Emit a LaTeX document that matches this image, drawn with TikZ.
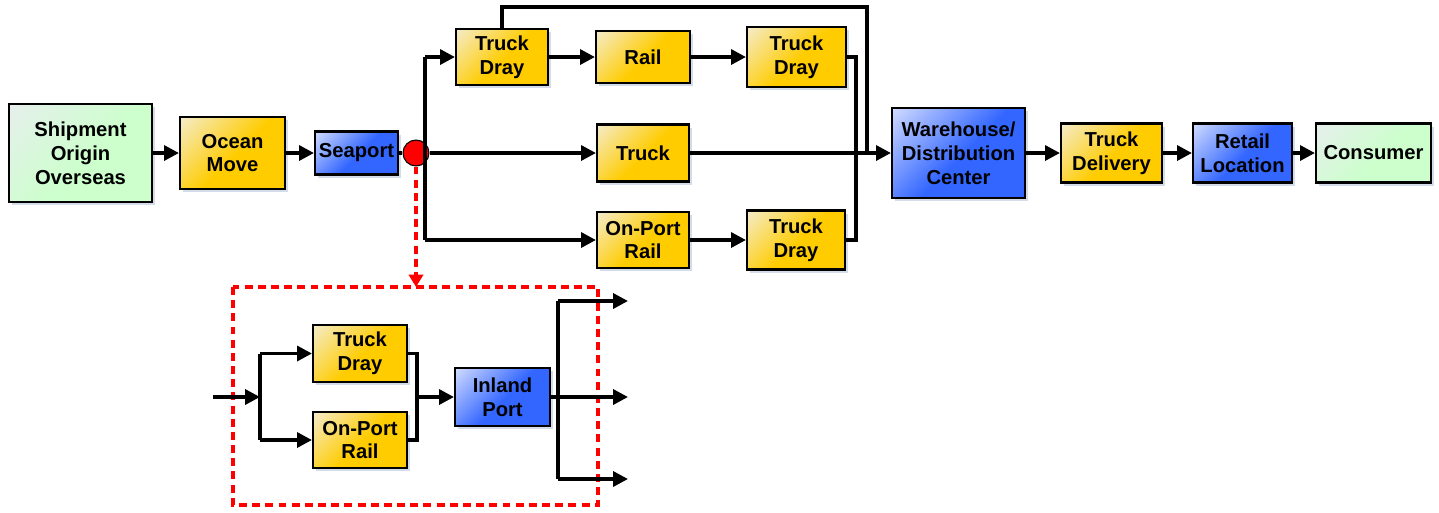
\documentclass[tikz,border=0pt]{standalone}
\usepackage{fontspec}
\setmainfont{Liberation Sans}
\usetikzlibrary{arrows.meta,shadows,positioning}
\definecolor{myGold}{HTML}{FFCC00}
\definecolor{myGoldLight}{HTML}{F4EED8}
\definecolor{myBlue}{HTML}{3366FF}
\definecolor{myBlueLight}{HTML}{DCE4FF}
\definecolor{myGreen}{HTML}{CCFFCC}
\definecolor{myGreenLight}{HTML}{E8EEEE}
\definecolor{myShadow}{HTML}{B8C4DC}
\pgfdeclareverticalshading{myGoldShade}{100bp}{color(0bp)=(myGold); color(48bp)=(myGold); color(88bp)=(myGoldLight); color(100bp)=(myGoldLight)}
\pgfdeclareverticalshading{myBlueShade}{100bp}{color(0bp)=(myBlue); color(48bp)=(myBlue); color(88bp)=(myBlueLight); color(100bp)=(myBlueLight)}
\pgfdeclareverticalshading{myGreenShade}{100bp}{color(0bp)=(myGreen); color(45bp)=(myGreen); color(88bp)=(myGreenLight); color(100bp)=(myGreenLight)}
\tikzset{
myBox/.style={
	rectangle, draw=black, line width=1.2pt,
	inner sep=0pt, align=center, text=black,
	font=\bfseries\fontsize{11.5}{13.6}\selectfont,
	drop shadow={shadow xshift=1.8pt, shadow yshift=-1.8pt, fill=myShadow, opacity=0.6}
}
, myYellow/.style={myBox, shading=myGoldShade, shading angle=45}
, myBlueBox/.style={myBox, shading=myBlueShade, shading angle=45}
, myGreenBox/.style={myBox, shading=myGreenShade, shading angle=45}
, mySplit/.style={circle, draw=black, line width=0.6pt, fill=red, inner sep=0pt, minimum size=0.52cm}
% links
, myLine/.style={line width=2pt, black}
, myArrow/.style={myLine, -{Triangle[length=8.5pt,width=8.5pt]}}
, myDash/.style={red, line width=1.8pt, dash pattern=on 4.5pt off 3pt}
}

\begin{document}
\begin{tikzpicture}[x=0.02cm, y=-0.02cm]
	\useasboundingbox (0,0) rectangle (1439,512);
	% main chain
	\node[myGreenBox, minimum width=2.86cm, minimum height=1.96cm] (Origin) at (80.5,153) {Shipment\\Origin\\Overseas};
	\node[myYellow, minimum width=2.10cm, minimum height=1.44cm] (Ocean) at (232.5,153) {Ocean\\Move};
	\node[myBlueBox, minimum width=1.66cm, minimum height=0.86cm] (Seaport) at (356.5,153) {Seaport};
	\node[mySplit] (Split) at (416,153) {};
	% upper routes
	\node[myYellow, minimum width=1.84cm, minimum height=1.12cm] (DrayA) at (502,57) {Truck\\Dray};
	\node[myYellow, minimum width=1.88cm, minimum height=1.04cm] (Rail) at (643,57) {Rail};
	\node[myYellow, minimum width=1.98cm, minimum height=1.20cm] (DrayB) at (796.5,57) {Truck\\Dray};
	\node[myYellow, minimum width=1.84cm, minimum height=1.14cm] (Truck) at (643,153) {Truck};
	\node[myYellow, minimum width=1.84cm, minimum height=1.12cm] (OnPort) at (643,240) {On-Port\\Rail};
	\node[myYellow, minimum width=1.96cm, minimum height=1.18cm] (DrayC) at (796,240) {Truck\\Dray};
	% last mile
	\node[myBlueBox, minimum width=2.66cm, minimum height=1.80cm] (Warehouse) at (958.5,153) {Warehouse/\\Distribution\\Center};
	\node[myYellow, minimum width=2.02cm, minimum height=1.18cm] (Delivery) at (1111.5,153) {Truck\\Delivery};
	\node[myBlueBox, minimum width=1.98cm, minimum height=1.18cm] (Retail) at (1242.5,153) {Retail\\Location};
	\node[myGreenBox, minimum width=2.30cm, minimum height=1.18cm] (Consumer) at (1373.5,153) {Consumer};
	% inland port detail
	\draw[myDash] (233,287) rectangle (598,505);
	\node[myYellow, minimum width=1.88cm, minimum height=1.14cm] (InDray) at (360,353.5) {Truck\\Dray};
	\node[myYellow, minimum width=1.88cm, minimum height=1.12cm] (InRail) at (360,440) {On-Port\\Rail};
	\node[myBlueBox, minimum width=1.90cm, minimum height=1.16cm] (Inland) at (502.5,397) {Inland\\Port};

	% coordinates
	\coordinate (BranchTop) at (425,57);
	\coordinate (BranchBot) at (425,240);
	\coordinate (LoopA) at (502,7);
	\coordinate (LoopB) at (867,7);
	\coordinate (LoopC) at (867,153);
	\coordinate (JoinX) at (856,0);
	\coordinate (DashEnd) at (416,287);
	\coordinate (InStart) at (213,397);
	\coordinate (InSplit) at (260,397);
	\coordinate (InJoin) at (417,397);
	\coordinate (OutSplit) at (558,397);
	\coordinate (OutA) at (628,301);
	\coordinate (OutB) at (628,397);
	\coordinate (OutC) at (628,479);

	% links
	\draw[myArrow] (Origin) -- (Ocean);
	\draw[myArrow] (Ocean) -- (Seaport);
	\draw[myLine] (Seaport) -- (Split);
	\draw[myLine] (BranchTop) -- (BranchBot);
	\draw[myArrow] (BranchTop) -- (DrayA);
	\draw[myArrow] (Split) -- (Truck);
	\draw[myArrow] (BranchBot) -- (OnPort);
	\draw[myArrow] (DrayA) -- (Rail);
	\draw[myArrow] (Rail) -- (DrayB);
	\draw[myArrow] (OnPort) -- (DrayC);
	\draw[myLine] (DrayA.north) -- (LoopA) -- (LoopB) -- (LoopC);
	\draw[myLine] (DrayB.east) -| (JoinX |- DrayC.east) -- (DrayC.east);
	\draw[myArrow] (Truck) -- (Warehouse);
	\draw[myArrow] (Warehouse) -- (Delivery);
	\draw[myArrow] (Delivery) -- (Retail);
	\draw[myArrow] (Retail) -- (Consumer);
	\draw[myDash, -{Triangle[length=7pt,width=8pt]}] (Split.south) -- (DashEnd);

	\draw[myArrow] (InStart) -- (InSplit);
	\draw[myArrow] (InSplit |- InDray.west) |- (InDray.west);
	\draw[myLine] (InSplit |- InDray.west) -- (InSplit |- InRail.west);
	\draw[myArrow] (InSplit |- InRail.west) -- (InRail.west);
	\draw[myLine] (InDray.east) -| (InJoin |- InRail.east) -- (InRail.east);
	\draw[myArrow] (InJoin) -- (Inland);
	\draw[myLine] (Inland.east) -- (OutSplit);
	\draw[myLine] (OutSplit |- OutA) -- (OutSplit |- OutC);
	\draw[myArrow] (OutSplit |- OutA) -- (OutA);
	\draw[myArrow] (OutSplit) -- (OutB);
	\draw[myArrow] (OutSplit |- OutC) -- (OutC);
\end{tikzpicture}
\end{document}
